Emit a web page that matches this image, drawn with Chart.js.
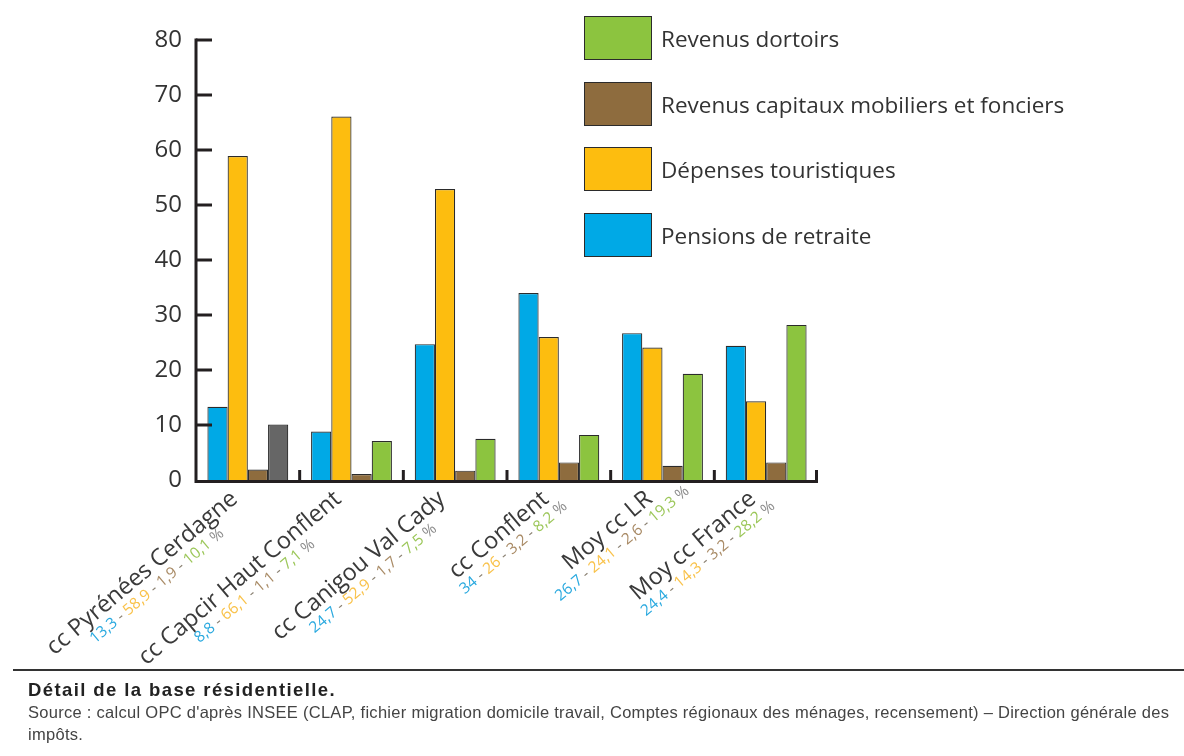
<!DOCTYPE html>
<html>
<head>
<meta charset="utf-8">
<script src="https://cdn.jsdelivr.net/npm/chart.js@4.4.1/dist/chart.umd.min.js"></script>
<style>
  body { margin: 0; background: #fff; width: 1184px; height: 756px; overflow: hidden; position: relative; font-family: "Open Sans", sans-serif; }
  #wrap { position: absolute; left: 0; top: 0; width: 1184px; height: 756px; }
  #legend { position: absolute; left: 584px; top: 16px; }
  .row { position: absolute; left: 0; width: 580px; height: 44px; }
  .box { position: absolute; left: 0; top: 0; width: 66px; height: 42px; border: 1px solid #2b2b2b; }
  .lbl { position: absolute; left: 77px; top: 1px; line-height: 44px; font-size: 22.5px; color: #333; white-space: nowrap; }
  #rule { position: absolute; left: 13px; right: 0; top: 669px; height: 0; border-top: 2px solid #333; }
  #caption { position: absolute; left: 28px; top: 679px; width: 1300px; font-family: "Liberation Sans", Arial, sans-serif; color: #444; }
  #caption .t { font-weight: bold; font-size: 18.5px; color: #222; line-height: 22px; letter-spacing: 1.4px; }
  #caption .s { font-size: 16.5px; line-height: 22px; letter-spacing: 0.28px; }
</style>
</head>
<body>
<div id="wrap"><canvas id="chart" width="1184" height="756"></canvas></div>
<div id="legend"></div>
<div id="rule"></div>
<div id="caption">
  <div class="t">Détail de la base résidentielle.</div>
  <div class="s">Source : calcul OPC d'après INSEE (CLAP, fichier migration domicile travail, Comptes régionaux des ménages, recensement) – Direction générale des<br>impôts.</div>
</div>
<script>
"use strict";

const categories = ["cc Pyrénées Cerdagne", "cc Capcir Haut Conflent", "cc Canigou Val Cady", "cc Conflent", "Moy cc LR", "Moy cc France"];
const seriesNames = ["Pensions de retraite", "Dépenses touristiques", "Revenus capitaux mobiliers et fonciers", "Revenus dortoirs"];
const pensions = [13.3, 8.8, 24.7, 34, 26.7, 24.4];
const tourisme = [58.9, 66.1, 52.9, 26, 24.1, 14.3];
const capitaux = [1.9, 1.1, 1.7, 3.2, 2.6, 3.2];
const dortoirs = [10.1, 7.1, 7.5, 8.2, 19.3, 28.2];
const yTicks = [0, 10, 20, 30, 40, 50, 60, 70, 80];

const barColors = ["#00a9e6", "#fdbd0f", "#8e6c3e", "#8cc43f"];
const textColors = ["#2aa9df", "#f9c24a", "#a98b66", "#9cc75a"];
const allSeries = [pensions, tourisme, capitaux, dortoirs];

// legend, drawn top to bottom in reverse order
const legend = document.getElementById("legend");
[3, 2, 1, 0].forEach((s, i) => {
  legend.insertAdjacentHTML("beforeend",
    '<div class="row" style="top:' + Math.round(i * 65.7) + 'px"><div class="box" style="background:' + barColors[s] + '"></div><div class="lbl">' + seriesNames[s] + '</div></div>');
});

function fmt(v) {
  return String(v).replace(".", ",");
}

const axisPlugin = {
  id: "axisPlugin",
  afterDatasetsDraw(chart) {
    const ctx = chart.ctx;
    const xs = chart.scales.x;
    const ys = chart.scales.y;
    const left = chart.chartArea.left, right = chart.chartArea.right;
    const bottom = ys.getPixelForValue(0);
    ctx.save();
    ctx.strokeStyle = "#231f20";
    ctx.lineWidth = 3;
    ctx.beginPath();
    ctx.moveTo(left, ys.getPixelForValue(80) - 1.5);
    ctx.lineTo(left, bottom + 1.5);
    ctx.lineTo(right, bottom + 1.5);
    ctx.stroke();
    yTicks.forEach(t => {
      if (t === 0) return;
      const y = ys.getPixelForValue(t);
      ctx.beginPath();
      ctx.moveTo(left, y);
      ctx.lineTo(left + 16, y);
      ctx.stroke();
    });
    for (let i = 0; i < categories.length; i++) {
      const x = i < categories.length - 1 ? (xs.getPixelForValue(i) + xs.getPixelForValue(i + 1)) / 2 : right - 1.5;
      ctx.beginPath();
      ctx.moveTo(x, bottom + 1);
      ctx.lineTo(x, bottom - 10);
      ctx.stroke();
    }
    ctx.restore();
  },
  afterDraw(chart) {
    const ctx = chart.ctx;
    const xs = chart.scales.x;
    const bottom = chart.scales.y.getPixelForValue(0);
    categories.forEach((name, i) => {
      const x = xs.getPixelForValue(i);
      ctx.save();
      ctx.translate(x - 9, bottom + 21);
      ctx.rotate(-40 * Math.PI / 180);
      ctx.textBaseline = "alphabetic";
      ctx.font = "23.5px 'Open Sans'";
      ctx.fillStyle = "#3a3a3a";
      ctx.textAlign = "right";
      ctx.fillText(name, 0, 0);
      const nameW = ctx.measureText(name).width;

      const parts = [];
      allSeries.forEach((arr, s) => {
        if (s > 0) parts.push([" - ", "#8a8072"]);
        parts.push([fmt(arr[i]), textColors[s]]);
      });
      parts.push([" %", "#8a8a8a"]);
      ctx.font = "15.5px 'Open Sans'";
      ctx.textAlign = "left";
      const total = parts.reduce((w, p) => w + ctx.measureText(p[0]).width, 0);
      let px = -nameW / 2 - total / 2 + 3;
      parts.forEach(p => {
        ctx.fillStyle = p[1];
        ctx.fillText(p[0], px, 17);
        px += ctx.measureText(p[0]).width;
      });
      ctx.restore();
    });
  }
};

const ctx = document.getElementById("chart").getContext("2d");
const chart = new Chart(ctx, {
  type: "bar",
  data: {
    labels: categories,
    datasets: allSeries.map((arr, s) => ({
      label: seriesNames[s],
      data: arr,
      backgroundColor: s === 3 ? arr.map((v, i) => i === 0 ? "#666666" : barColors[3]) : barColors[s],
      borderColor: "#2b2b2b",
      borderWidth: 1.2,
      categoryPercentage: 0.78,
      barPercentage: 1
    }))
  },
  options: {
    responsive: false,
    animation: false,
    layout: { padding: { left: 0, right: 366, top: 40, bottom: 0 } },
    plugins: { legend: { display: false }, tooltip: { enabled: false } },
    scales: {
      x: {
        grid: { display: false },
        border: { display: false },
        ticks: { display: false },
        afterFit(scale) { scale.height = 276; }
      },
      y: {
        min: 0,
        max: 80,
        grid: { display: false },
        border: { display: false },
        afterBuildTicks(scale) { scale.ticks = yTicks.map(v => ({ value: v })); },
        ticks: { padding: 6, color: "#333", font: { family: "'Open Sans'", size: 24 } },
        afterFit(scale) { scale.width = 196; }
      }
    }
  },
  plugins: [axisPlugin]
});
</script>
</body>
</html>
